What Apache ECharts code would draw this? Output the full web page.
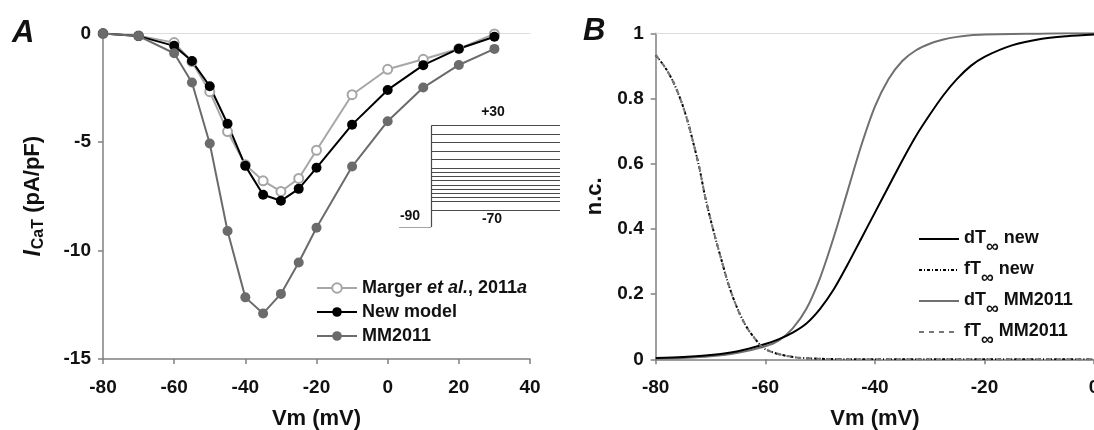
<!DOCTYPE html>
<html><head><meta charset="utf-8">
<script src="https://cdn.jsdelivr.net/npm/echarts@6/dist/echarts.min.js"></script>
<style>html,body{margin:0;padding:0;background:#fff}#c{width:1094px;height:430px}</style>
</head><body><div id="c"></div>
<script>
// ---------- Panel A data ----------
const vmA = [-80,-70,-60,-55,-50,-45,-40,-35,-30,-25,-20,-10,0,10,20,30];
const marger = [0,-0.1,-0.42,-1.3,-2.68,-4.52,-6.05,-6.79,-7.28,-6.68,-5.38,-2.82,-1.65,-1.19,-0.7,-0.02];
const newModel = [0,-0.12,-0.57,-1.27,-2.43,-4.16,-6.1,-7.43,-7.71,-7.16,-6.19,-4.2,-2.6,-1.46,-0.7,-0.15];
const mm2011 = [0,-0.12,-0.91,-2.26,-5.07,-9.1,-12.16,-12.9,-12.0,-10.55,-8.95,-6.13,-4.04,-2.49,-1.45,-0.71];
// voltage protocol inset (mV)
const protocolHold = -90;
const protocolTests = [30,20,10,0,-10,-20,-25,-30,-35,-40,-45,-50,-55,-60,-70];

// ---------- Panel B data ----------
const vmD = [-80,-75,-70,-65,-60,-57.5,-55,-52.5,-50,-47.5,-45,-42.5,-40,-37.5,-35,-32.5,-30,-27.5,-25,-22.5,-20,-15,-10,-5,0];
const dTnew = [0.004,0.007,0.013,0.025,0.047,0.062,0.082,0.11,0.155,0.215,0.29,0.37,0.45,0.53,0.61,0.685,0.75,0.81,0.86,0.9,0.928,0.963,0.982,0.991,0.996];
const dTmm = [0.002,0.004,0.009,0.02,0.04,0.058,0.095,0.155,0.25,0.375,0.515,0.655,0.775,0.86,0.915,0.948,0.968,0.981,0.989,0.994,0.996,0.998,0.999,1.0,1.0];
const vmF = [-80,-79,-78,-77,-76,-75,-74,-73,-72,-71,-70,-69,-68,-67,-66,-65,-64,-63,-62,-61,-60,-58,-56,-54,-52,-50,-45,-40,-30,-20,-10,0];
const fTnew = [0.933,0.912,0.888,0.858,0.82,0.775,0.72,0.655,0.585,0.50,0.43,0.365,0.305,0.245,0.195,0.152,0.117,0.088,0.066,0.045,0.031,0.018,0.01,0.005,0.003,0.0015,0.0003,0,0,0,0,0];
const fTmm = [0.933,0.912,0.888,0.858,0.82,0.775,0.72,0.655,0.585,0.50,0.43,0.365,0.305,0.245,0.195,0.152,0.117,0.088,0.066,0.045,0.031,0.018,0.01,0.005,0.003,0.0015,0.0003,0,0,0,0,0];

const FONT = "'Liberation Sans', Arial, sans-serif";
const pair = (xs, ys) => xs.map((x, i) => [x, ys[i]]);
const axisCol = '#808080';

const chart = echarts.init(document.getElementById('c'), null, {renderer: 'canvas'});

const baseAxis = {
  axisLine: {show: true, onZero: false, lineStyle: {color: axisCol, width: 1.5}},
  axisTick: {show: true, length: 5, lineStyle: {color: axisCol, width: 1.5}},
  splitLine: {show: false},
  axisLabel: {color: '#111', fontFamily: FONT, fontWeight: 'bold', fontSize: 19},
  nameTextStyle: {color: '#111', fontFamily: FONT, fontWeight: 'bold', fontSize: 22}
};
const topLine = (gi, min, max) => ({
  type: 'value', gridIndex: gi, position: 'top', min, max,
  axisLine: {show: true, onZero: false, lineStyle: {color: '#dcdcdc', width: 1}},
  axisTick: {show: false}, axisLabel: {show: false}, splitLine: {show: false}
});

const protocolSegs = [
  {coords: [[0, protocolHold], [1, protocolHold]]},
  {coords: [[1, protocolHold], [1, Math.max(...protocolTests)]]}
].concat(protocolTests.map(v => ({coords: [[1, v], [5, v]]})));

const subRich = {
  n: {fontFamily: FONT, fontWeight: 'bold', fontSize: 18, color: '#111', verticalAlign: 'top', lineHeight: 20},
  s: {fontFamily: FONT, fontWeight: 'bold', fontSize: 18, color: '#111', verticalAlign: 'top', lineHeight: 20, padding: [9, 0, 0, 0]}
};

const option = {
  animation: false,
  backgroundColor: '#fff',
  grid: [
    {left: 103, top: 33.5, width: 427, height: 325.5, containLabel: false, outerBoundsMode: 'none'},
    {left: 655.7, top: 33.3, width: 438.4, height: 326, containLabel: false, outerBoundsMode: 'none'},
    {left: 399, top: 125.7, width: 161, height: 101.3, containLabel: false, outerBoundsMode: 'none'}
  ],
  xAxis: [
    Object.assign({}, baseAxis, {type: 'value', gridIndex: 0, min: -80, max: 40, interval: 20,
      name: 'Vm (mV)', nameLocation: 'middle', nameGap: 49,
      axisLabel: Object.assign({}, baseAxis.axisLabel, {margin: 19})}),
    Object.assign({}, baseAxis, {type: 'value', gridIndex: 1, min: -80, max: 0, interval: 20,
      name: 'Vm (mV)', nameLocation: 'middle', nameGap: 49,
      axisLabel: Object.assign({}, baseAxis.axisLabel, {margin: 19})}),
    {type: 'value', gridIndex: 2, min: 0, max: 5, show: false},
    topLine(0, -80, 40),
    topLine(1, -80, 0)
  ],
  yAxis: [
    Object.assign({}, baseAxis, {type: 'value', gridIndex: 0, min: -15, max: 0, interval: 5,
      name: '{i|I}{s|CaT}{n| (pA/pF)}', nameLocation: 'middle', nameGap: 56,
      axisLabel: Object.assign({}, baseAxis.axisLabel, {margin: 12}),
      nameTextStyle: {color: '#111', fontFamily: FONT, fontWeight: 'bold', fontSize: 22,
        rich: {
          i: {fontFamily: FONT, fontWeight: 'bold', fontStyle: 'italic', fontSize: 23, color: '#111', verticalAlign: 'top'},
          s: {fontFamily: FONT, fontWeight: 'bold', fontSize: 16, color: '#111', verticalAlign: 'top', padding: [9, 0, 0, 1]},
          n: {fontFamily: FONT, fontWeight: 'bold', fontSize: 22, color: '#111', verticalAlign: 'top'}
        }}}),
    Object.assign({}, baseAxis, {type: 'value', gridIndex: 1, min: 0, max: 1, interval: 0.2,
      name: 'n.c.', nameLocation: 'middle', nameGap: 50,
      axisLabel: Object.assign({}, baseAxis.axisLabel, {margin: 12})}),
    {type: 'value', gridIndex: 2, min: -90, max: 30, show: false}
  ],
  legend: [
    {
      left: 311, top: 274, orient: 'vertical', itemWidth: 40, itemHeight: 12, itemGap: 6,
      data: ['Marger et al., 2011a', 'New model', 'MM2011'],
      formatter: n => n === 'Marger et al., 2011a' ? '{n|Marger }{i|et al.}{n|, 2011}{i|a}' : '{n|' + n + '}',
      textStyle: {color: '#111', fontFamily: FONT, fontWeight: 'bold', fontSize: 18,
        rich: {
          n: {fontFamily: FONT, fontWeight: 'bold', fontSize: 18, color: '#111'},
          i: {fontFamily: FONT, fontWeight: 'bold', fontStyle: 'italic', fontSize: 18, color: '#111'}
        }}
    },
    {
      left: 913, top: 224, orient: 'vertical', itemWidth: 40, itemHeight: 10, itemGap: 4,
      data: ['dT∞ new', 'fT∞ new', 'dT∞ MM2011', 'fT∞ MM2011'],
      itemStyle: {opacity: 0},
      formatter: n => n.replace(/^(\w+)∞(.*)$/, '{n|$1}{s|∞}{n|$2}'),
      textStyle: {color: '#111', fontFamily: FONT, fontWeight: 'bold', fontSize: 18, rich: subRich}
    }
  ],
  series: [
    {name: 'Marger et al., 2011a', type: 'line', xAxisIndex: 0, yAxisIndex: 0, data: pair(vmA, marger),
      symbol: 'emptyCircle', symbolSize: 9, lineStyle: {color: '#a6a6a6', width: 2},
      itemStyle: {color: '#a6a6a6', borderWidth: 1.5}},
    {name: 'New model', type: 'line', xAxisIndex: 0, yAxisIndex: 0, data: pair(vmA, newModel),
      symbol: 'circle', symbolSize: 10, lineStyle: {color: '#000', width: 2}, itemStyle: {color: '#000'}},
    {name: 'MM2011', type: 'line', xAxisIndex: 0, yAxisIndex: 0, data: pair(vmA, mm2011),
      symbol: 'circle', symbolSize: 10, lineStyle: {color: '#6b6b6b', width: 2}, itemStyle: {color: '#6b6b6b'}},
    {type: 'lines', coordinateSystem: 'cartesian2d', xAxisIndex: 2, yAxisIndex: 2, data: protocolSegs,
      lineStyle: {color: '#4a4a4a', width: 1.2, opacity: 1}, silent: true},

    {name: 'dT∞ MM2011', type: 'line', xAxisIndex: 1, yAxisIndex: 1, data: pair(vmD, dTmm),
      symbol: 'none', smooth: 0.3, lineStyle: {color: '#707070', width: 2}, itemStyle: {color: '#707070'}},
    {name: 'dT∞ new', type: 'line', xAxisIndex: 1, yAxisIndex: 1, data: pair(vmD, dTnew),
      symbol: 'none', smooth: 0.3, lineStyle: {color: '#000', width: 2}, itemStyle: {color: '#000'}},
    {name: 'fT∞ new', type: 'line', xAxisIndex: 1, yAxisIndex: 1, data: pair(vmF, fTnew),
      symbol: 'none', smooth: 0.3, lineStyle: {color: '#000', width: 2, type: [3, 2, 1, 2]}, itemStyle: {color: '#000'}},
    {name: 'fT∞ MM2011', type: 'line', xAxisIndex: 1, yAxisIndex: 1, data: pair(vmF, fTmm),
      symbol: 'none', smooth: 0.3, lineStyle: {color: '#777', width: 2, type: [5, 5]}, itemStyle: {color: '#777'}}
  ],
  graphic: [
    {type: 'text', left: 12, top: 18, style: {text: 'A', font: "italic bold 31px " + FONT, fill: '#111'}},
    {type: 'text', left: 583, top: 16, style: {text: 'B', font: "italic bold 31px " + FONT, fill: '#111'}},
    {type: 'text', x: 493, y: 112, style: {text: '+30', font: "bold 14px " + FONT, fill: '#111', align: 'center', verticalAlign: 'middle'}},
    {type: 'text', x: 410, y: 216, style: {text: '-90', font: "bold 14px " + FONT, fill: '#111', align: 'center', verticalAlign: 'middle'}},
    {type: 'text', x: 492, y: 219, style: {text: '-70', font: "bold 14px " + FONT, fill: '#111', align: 'center', verticalAlign: 'middle'}}
  ]
};
chart.setOption(option);
</script></body></html>
